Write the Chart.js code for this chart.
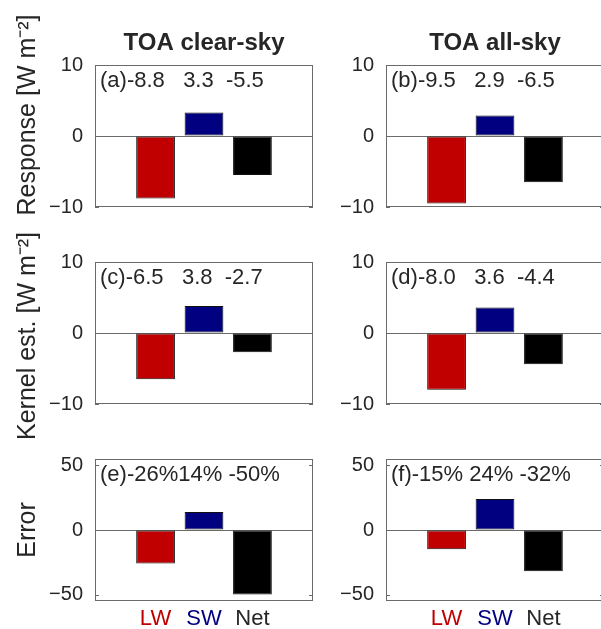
<!DOCTYPE html>
<html>
<head>
<meta charset="utf-8">
<script src="https://cdn.jsdelivr.net/npm/chart.js@4.4.1/dist/chart.umd.min.js"></script>
<style>
html, body { margin: 0; padding: 0; background: #fff; overflow: hidden; }
#fig { position: relative; width: 601px; height: 629px; overflow: hidden; }
.panel { position: absolute; width: 323px; height: 260px; }
</style>
</head>
<body>
<div id="fig">
  <div class="panel" style="left:0px;top:0px"><canvas id="pa"></canvas></div>
  <div class="panel" style="left:291px;top:0px"><canvas id="pb"></canvas></div>
  <div class="panel" style="left:0px;top:197px"><canvas id="pc"></canvas></div>
  <div class="panel" style="left:291px;top:197px"><canvas id="pd"></canvas></div>
  <div class="panel" style="left:0px;top:394px"><canvas id="pe"></canvas></div>
  <div class="panel" style="left:291px;top:394px"><canvas id="pf"></canvas></div>
</div>
<script>
var categories = ['LW', 'SW', 'Net'];
var catPos = [1, 2, 3];
var barColors = ['#c00000', '#000080', '#000000'];
var labelColors = ['#c00000', '#000080', '#262626'];

// TOA response, kernel estimate [W m-2] and error [%]
var respClear = [-8.8, 3.3, -5.5];
var respAll = [-9.5, 2.9, -6.5];
var kernClear = [-6.5, 3.8, -2.7];
var kernAll = [-8.0, 3.6, -4.4];
var errClear = [-26, 14, -50];
var errAll = [-15, 24, -32];

var fluxTicks = [-10, 0, 10];
var errTicks = [-50, 0, 50];

var notesA = '(a)-8.8   3.3  -5.5';
var notesB = '(b)-9.5   2.9  -6.5';
var notesC = '(c)-6.5   3.8  -2.7';
var notesD = '(d)-8.0   3.6  -4.4';
var notesE = '(e)-26%14% -50%';
var notesF = '(f)-15% 24% -32%';

var FONT = '"Liberation Sans", Arial, Helvetica, sans-serif';
var TXT = '#262626';

// box, inner ticks, panel texts
var panelText = {
    id: 'panelText',
    afterDraw: function (chart, args, o) {
        var ctx = chart.ctx, a = chart.chartArea;
        var ys = chart.scales.y;
        ctx.save();
        ctx.strokeStyle = '#6a6a6a';
        ctx.lineWidth = 1;
        ctx.strokeRect(a.left + 0.5, a.top + 0.5, a.right - a.left - 1, a.bottom - a.top - 1);
        ctx.beginPath();
        o.yticks.forEach(function (v) {
            var y = Math.round(ys.getPixelForValue(v)) + 0.5;
            ctx.moveTo(a.left, y); ctx.lineTo(a.left + 4, y);
            ctx.moveTo(a.right - 4, y); ctx.lineTo(a.right, y);
        });
        ctx.stroke();

        ctx.fillStyle = TXT;
        ctx.textBaseline = 'alphabetic';
        ctx.textAlign = 'left';
        ctx.font = '22px ' + FONT;
        ctx.fillText(o.note, a.left + 5, a.top + 22);

        if (o.title) {
            ctx.font = 'bold 24px ' + FONT;
            ctx.textAlign = 'center';
            ctx.fillText(o.title, (a.left + a.right) / 2, a.top - 15);
        }
        if (o.ylabel) {
            ctx.translate(28, (a.top + a.bottom) / 2 + o.yshift);
            ctx.rotate(-Math.PI / 2);
            ctx.font = '25px ' + FONT;
            ctx.textAlign = 'center';
            ctx.textBaseline = 'middle';
            ctx.fillText(o.ylabel, 0, 0);
        }
        ctx.restore();
    }
};

function makePanel(id, vals, yLim, yTicks, txt) {
    return new Chart(document.getElementById(id), {
        type: 'bar',
        data: {
            datasets: [{
                data: vals.map(function (v, i) { return { x: catPos[i], y: v }; }),
                backgroundColor: barColors,
                borderColor: '#111111',
                borderWidth: 1,
                borderSkipped: false,
                barPercentage: 0.8,
                categoryPercentage: 1.0
            }]
        },
        options: {
            responsive: true,
            maintainAspectRatio: false,
            animation: false,
            layout: { padding: { left: 0, right: 10, top: 65, bottom: 26 } },
            scales: {
                x: {
                    type: 'linear',
                    min: -0.25,
                    max: 4.25,
                    offset: false,
                    afterBuildTicks: function (s) {
                        s.ticks = catPos.map(function (v) { return { value: v }; });
                    },
                    afterFit: function (s) { s.height = 27; },
                    grid: { display: false, offset: false },
                    border: { display: false },
                    ticks: {
                        display: !!txt.xlabels,
                        autoSkip: false,
                        maxRotation: 0,
                        padding: -3,
                        font: { family: FONT, size: 22 },
                        color: function (c) { return labelColors[c.index]; },
                        callback: function (v, i) { return categories[i]; }
                    }
                },
                y: {
                    min: -yLim,
                    max: yLim,
                    afterBuildTicks: function (s) {
                        s.ticks = yTicks.map(function (v) { return { value: v }; });
                    },
                    afterFit: function (s) { s.width = 95; },
                    grid: {
                        drawTicks: false,
                        color: function (c) {
                            return c.tick && c.tick.value === 0 ? '#6a6a6a' : 'rgba(0,0,0,0)';
                        }
                    },
                    border: { display: false },
                    ticks: {
                        padding: 12,
                        color: TXT,
                        font: { family: FONT, size: 20 },
                        callback: function (v) { return v < 0 ? '\u2212' + Math.abs(v) : String(v); }
                    }
                }
            },
            plugins: {
                legend: { display: false },
                tooltip: { enabled: false },
                panelText: {
                    note: txt.note,
                    title: txt.title,
                    ylabel: txt.ylabel,
                    yshift: txt.yshift || 0,
                    yticks: yTicks
                }
            }
        },
        plugins: [panelText]
    });
}

makePanel('pa', respClear, 10, fluxTicks, { note: notesA, title: 'TOA clear-sky', ylabel: 'Response [W m\u207B\u00B2]', yshift: -21 });
makePanel('pb', respAll, 10, fluxTicks, { note: notesB, title: 'TOA all-sky' });
makePanel('pc', kernClear, 10, fluxTicks, { note: notesC, ylabel: 'Kernel est. [W m\u207B\u00B2]', yshift: 3 });
makePanel('pd', kernAll, 10, fluxTicks, { note: notesD });
makePanel('pe', errClear, 55, errTicks, { note: notesE, ylabel: 'Error', xlabels: true });
makePanel('pf', errAll, 55, errTicks, { note: notesF, xlabels: true });
</script>
</body>
</html>
